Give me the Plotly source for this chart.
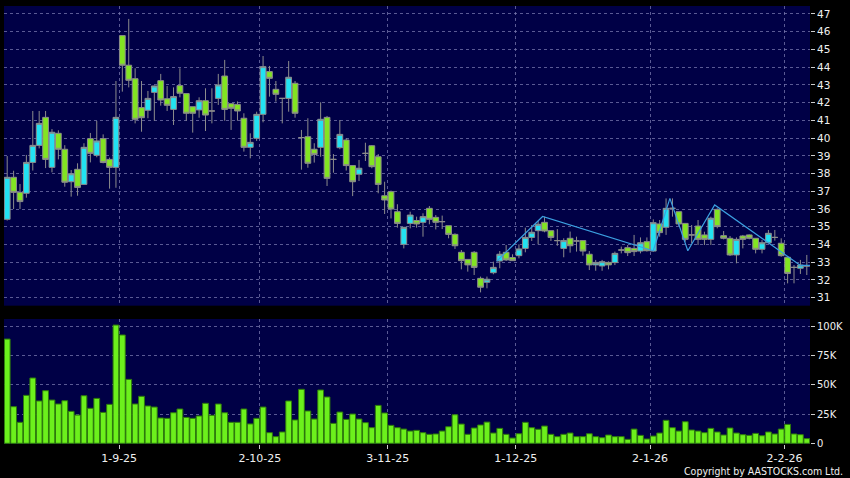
import plotly.graph_objects as go
import pandas as pd

# ---------------- data ----------------
holidays = ["2025-10-01", "2025-10-07", "2025-10-29", "2025-12-25", "2025-12-26", "2026-01-01"]
dates = [d for d in pd.bdate_range("2025-08-06", "2026-02-05") if d.strftime("%Y-%m-%d") not in holidays]
idx = list(range(len(dates)))

opens = [35.42, 37.79, 36.94, 36.89, 38.63, 39.59, 41.17, 38.35, 40.27, 39.37,
         37.54, 38.24, 37.39, 39.97, 39.03, 39.97, 38.80, 38.35, 45.78, 44.11,
         43.35, 41.72, 41.57, 42.58, 43.24, 42.22, 41.62, 42.96, 42.51, 41.77,
         41.59, 42.11, 41.53, 42.24, 43.50, 41.94, 41.90, 41.12, 39.48, 39.99,
         41.34, 43.75, 42.75, 42.24, 42.24, 43.09, 40.03, 40.08, 39.37, 39.48,
         41.17, 38.80, 39.46, 39.89, 38.45, 37.96, 39.14, 39.57, 38.95, 36.75,
         36.98, 35.85, 34.01, 35.19, 35.35, 35.25, 36.04, 35.53, 35.29, 35.06,
         34.57, 33.56, 33.16, 33.56, 32.09, 31.87, 32.41, 33.07, 33.56, 33.26,
         33.37, 33.78, 34.40, 34.78, 35.25, 34.78, 34.22, 33.78, 34.35, 34.20,
         34.22, 33.45, 32.85, 32.79, 32.99, 32.98, 33.69, 33.82, 33.78, 33.63,
         34.16, 33.63, 35.16, 34.97, 36.04, 35.85, 35.19, 34.54, 35.04, 34.54,
         34.29, 35.98, 34.50, 34.35, 33.41, 34.48, 34.54, 34.35, 33.73, 34.10,
         34.40, 34.07, 33.28, 32.71, 32.66, 32.79]
highs = [38.99, 38.16, 37.41, 39.05, 41.53, 41.53, 41.53, 40.51, 40.44, 39.60,
         38.20, 38.58, 39.71, 40.29, 40.97, 40.21, 38.90, 43.22, 45.78, 46.72,
         43.94, 43.22, 42.66, 42.96, 43.62, 42.94, 42.86, 43.94, 42.51, 41.77,
         42.30, 42.81, 42.81, 43.62, 44.41, 41.94, 42.07, 41.40, 40.27, 41.49,
         44.63, 44.07, 43.22, 42.24, 44.35, 43.22, 40.46, 41.12, 39.71, 42.02,
         41.25, 39.10, 41.02, 39.99, 38.45, 38.77, 39.74, 39.61, 39.10, 37.54,
         37.04, 36.27, 34.97, 35.85, 35.57, 35.76, 36.17, 35.66, 35.63, 35.06,
         34.63, 33.69, 33.16, 33.63, 32.19, 32.19, 33.03, 33.63, 33.97, 33.45,
         34.01, 34.95, 35.10, 35.33, 35.57, 34.78, 34.87, 34.35, 34.73, 34.44,
         34.25, 33.63, 33.13, 33.13, 33.05, 33.60, 33.88, 33.97, 34.54, 34.40,
         34.40, 35.42, 35.38, 36.60, 36.60, 35.85, 35.19, 35.10, 35.38, 34.72,
         35.57, 36.04, 34.76, 34.48, 34.40, 34.54, 34.57, 34.35, 34.25, 34.82,
         34.82, 34.35, 33.28, 32.84, 33.13, 33.41]
lows = [35.35, 36.00, 36.00, 36.64, 38.17, 39.42, 38.31, 38.07, 38.80, 37.26,
        36.70, 36.75, 37.36, 38.63, 38.92, 38.58, 37.15, 37.20, 42.62, 42.86,
        40.83, 40.36, 41.12, 40.98, 41.83, 41.53, 40.74, 42.30, 40.98, 40.31,
        41.15, 40.40, 40.83, 41.87, 40.98, 40.46, 40.98, 39.24, 38.86, 39.84,
        40.89, 42.34, 42.06, 40.83, 41.49, 41.15, 38.22, 38.33, 38.62, 38.95,
        37.30, 38.05, 39.37, 38.17, 36.73, 37.58, 38.71, 38.30, 36.89, 35.72,
        35.47, 34.95, 33.78, 34.91, 34.95, 34.44, 35.14, 34.85, 34.87, 34.35,
        33.75, 32.60, 32.47, 32.28, 31.30, 31.53, 32.32, 32.66, 33.07, 33.07,
        33.22, 33.56, 34.20, 34.01, 34.69, 34.20, 33.93, 33.28, 33.54, 33.60,
        33.37, 32.56, 32.52, 32.52, 32.60, 32.84, 33.50, 33.35, 33.35, 33.50,
        33.60, 33.60, 34.44, 34.54, 35.57, 35.04, 34.16, 34.07, 33.97, 33.97,
        33.97, 34.91, 34.29, 33.35, 32.94, 33.78, 34.29, 33.50, 33.50, 34.07,
        34.22, 33.31, 31.81, 31.81, 32.34, 32.28]
closes = [37.79, 36.94, 36.42, 38.63, 39.59, 40.83, 38.80, 40.33, 39.37, 37.51,
          37.99, 37.22, 39.48, 39.14, 39.84, 38.63, 38.35, 41.17, 44.11, 43.26,
          41.06, 41.15, 42.24, 42.94, 42.15, 41.85, 42.34, 42.53, 41.40, 41.40,
          42.11, 41.30, 41.53, 43.00, 41.62, 41.68, 41.53, 39.48, 39.76, 41.34,
          44.03, 43.37, 42.47, 42.24, 43.43, 41.40, 40.03, 38.58, 39.08, 41.06,
          37.73, 38.80, 40.21, 38.45, 37.54, 38.30, 39.14, 38.39, 37.39, 36.51,
          36.00, 35.19, 34.97, 35.66, 35.16, 35.57, 35.42, 35.25, 35.29, 34.57,
          33.93, 33.09, 32.85, 32.71, 31.59, 32.04, 32.71, 33.45, 33.13, 33.09,
          33.75, 34.40, 34.69, 35.14, 34.76, 34.40, 34.22, 34.22, 33.93, 34.20,
          33.63, 32.85, 32.99, 33.03, 32.85, 33.50, 33.69, 33.54, 33.60, 34.10,
          33.65, 35.23, 34.67, 36.04, 36.04, 35.16, 34.29, 34.54, 34.29, 34.29,
          35.48, 35.01, 34.35, 33.41, 34.29, 34.29, 34.35, 33.73, 34.10, 34.63,
          34.40, 33.37, 32.37, 32.71, 32.84, 32.79]
volume_k = [89.4, 31.4, 18.0, 41.1, 56.0, 36.3, 45.1, 37.1, 33.7, 36.5,
            27.4, 24.2, 40.8, 30.0, 38.5, 26.5, 33.4, 101.4, 92.9, 54.8,
            33.7, 40.3, 32.0, 31.1, 21.7, 21.4, 26.2, 29.4, 22.2, 21.4,
            23.4, 34.3, 24.0, 33.7, 26.2, 18.0, 18.0, 29.4, 16.6, 21.4,
            31.1, 9.1, 5.7, 9.7, 36.3, 20.0, 46.3, 27.7, 20.8, 45.7,
            39.7, 17.1, 26.8, 20.5, 25.1, 20.8, 17.7, 13.4, 32.5, 26.0,
            15.4, 13.4, 12.2, 10.5, 11.1, 9.1, 7.7, 8.0, 10.5, 14.2,
            24.5, 16.5, 7.7, 13.1, 15.7, 18.2, 8.8, 12.8, 7.7, 4.5,
            8.2, 18.0, 13.4, 12.0, 14.8, 7.7, 5.7, 7.7, 8.8, 5.7,
            5.7, 8.2, 5.7, 4.8, 7.1, 5.7, 5.7, 3.4, 12.2, 6.8,
            3.7, 6.2, 8.8, 19.7, 13.4, 10.5, 18.5, 11.4, 10.5, 9.1,
            12.8, 9.7, 7.1, 13.1, 8.8, 7.4, 6.8, 8.5, 6.5, 9.7,
            8.0, 12.2, 16.2, 8.0, 7.4, 4.0]

# drawn zig-zag overlay (bar position, price)
zigzag_pos = [76.5, 83.7, 101.0, 103.6, 106.4, 110.6, 124.0, 125.5]
zigzag_val = [33.05, 35.58, 33.65, 36.60, 33.65, 36.23, 32.82, 32.82]

# month ticks: bar index of first trading day of month, and label
month_idx = [18, 40, 60, 80, 101, 122]
month_labels = ["1-9-25", "2-10-25", "3-11-25", "1-12-25", "2-1-26", "2-2-26"]

price_ticks = list(range(31, 48))
vol_ticks = [0, 25, 50, 75, 100]
vol_tick_labels = ["0", "25K", "50K", "75K", "100K"]

# ---------------- figure ----------------
NAVY = "#000046"
GRID = "rgba(120,120,175,0.75)"
WICK = "#8c8c8c"
CYAN = "#22e2f2"
GREEN = "#82e422"
VOL = "#6cf01c"
FONT = "DejaVu Sans"

hover = [d.strftime("%d-%m-%Y") for d in dates]

fig = go.Figure()
fig.add_trace(go.Candlestick(
    x=idx, open=opens, high=highs, low=lows, close=closes,
    increasing=dict(fillcolor=CYAN, line=dict(color=WICK, width=1)),
    decreasing=dict(fillcolor=GREEN, line=dict(color=WICK, width=1)),
    whiskerwidth=0, text=hover, xaxis="x", yaxis="y", showlegend=False,
))
fig.add_trace(go.Scatter(
    x=zigzag_pos, y=zigzag_val, mode="lines",
    line=dict(color="#3b9fe0", width=1.2), xaxis="x", yaxis="y",
    showlegend=False, hoverinfo="skip",
))
fig.add_trace(go.Bar(
    x=idx, y=volume_k, marker=dict(color=VOL, line=dict(color="#2e7a0c", width=1)),
    xaxis="x2", yaxis="y2", showlegend=False, text=hover, textposition="none",
))

grid_x = [m - 0.5 for m in month_idx]
common_x = dict(range=[-0.5, len(idx) - 0.5], tickvals=grid_x, showgrid=True,
                gridcolor=GRID, griddash="3px,3px", gridwidth=1, zeroline=False,
                showline=False, fixedrange=True)

fig.update_layout(
    width=850, height=478,
    margin=dict(l=4, r=40, t=6, b=34),
    paper_bgcolor="#000000", plot_bgcolor=NAVY,
    boxgap=0.1, boxgroupgap=0, bargap=0.1,
    font=dict(family=FONT, color="#e8e8e8", size=10),
    xaxis=dict(**common_x, anchor="y", domain=[0, 1], showticklabels=False,
               ticks="", rangeslider=dict(visible=False), matches="x2"),
    xaxis2=dict(**common_x, anchor="y2", domain=[0, 1], ticktext=month_labels,
                ticks="outside", ticklen=4, tickcolor="#cccccc",
                tickfont=dict(family=FONT, size=11, color="#f0f0f0")),
    yaxis=dict(domain=[0.3158, 1], side="right", range=[30.55, 47.45],
               tickvals=price_ticks, ticks="outside", ticklen=4, tickcolor="#cccccc",
               showgrid=True, gridcolor=GRID, griddash="3px,3px", zeroline=False,
               tickfont=dict(family=FONT, size=10.5, color="#f0f0f0"), fixedrange=True),
    yaxis2=dict(domain=[0, 0.2854], side="right", range=[-0.6, 106.6],
                tickvals=vol_ticks, ticktext=vol_tick_labels, ticks="outside",
                ticklen=4, tickcolor="#cccccc", showgrid=True, gridcolor=GRID,
                griddash="3px,3px", zeroline=False,
                tickfont=dict(family=FONT, size=10, color="#f0f0f0"), fixedrange=True),
    annotations=[dict(text="Copyright by AASTOCKS.com Ltd.", xref="paper", yref="paper",
                      x=1.044, y=-0.062, xanchor="right", yanchor="middle", showarrow=False,
                      font=dict(family="DejaVu Sans Condensed, DejaVu Sans", size=10.5,
                                color="#f0f0f0"))],
)

fig.write_html(
    "out.html",
    config={"displayModeBar": False},
    post_script="document.body.style.margin='0';document.body.style.background='#000';",
)
